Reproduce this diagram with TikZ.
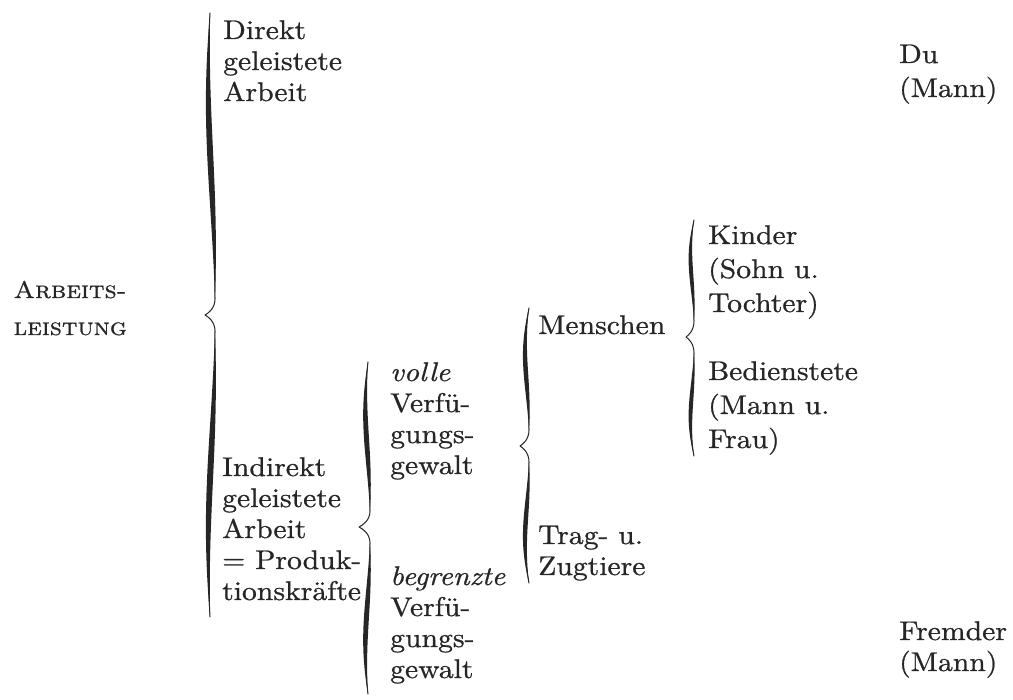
\documentclass[tikz,border=0pt]{standalone}
\usepackage{fontspec}
\setmainfont{lmroman10-regular.otf}[
  ItalicFont=lmroman10-italic.otf,
  SmallCapsFont=lmromancaps10-regular.otf,
  FakeStretch=1.1,
  FakeBold=0.8]
\definecolor{ink}{RGB}{38,38,38}
\newcommand\txtblock[1]{\begin{tabular}[t]{@{}l@{}}#1\end{tabular}}
% curly brace opening to the right, tip pointing left
% #1 stem x, #2 top y, #3 tip y, #4 bottom y, #5 end offset, #6 near-tip offset, #7 tip protrusion, #8 thickness
\newcommand\curlyb[8]{%
  \pgfmathsetmacro\cbS{#1}%
  \pgfmathsetmacro\cbT{#2}%
  \pgfmathsetmacro\cbM{#3}%
  \pgfmathsetmacro\cbB{#4}%
  \pgfmathsetmacro\cbE{\cbS+#5}%
  \pgfmathsetmacro\cbN{\cbS+#6}%
  \pgfmathsetmacro\cbP{\cbS-#7}%
  \pgfmathsetmacro\cbW{#8/1.5}%
  \pgfmathsetmacro\cbH{min(16,0.07*(\cbB-\cbT))}%
  \pgfmathsetmacro\cbUa{\cbM-\cbH}%
  \pgfmathsetmacro\cbLa{\cbM+\cbH}%
  \pgfmathsetmacro\cbUc{\cbT+0.4*(\cbUa-\cbT)}%
  \pgfmathsetmacro\cbUd{\cbUa-0.4*(\cbUa-\cbT)}%
  \pgfmathsetmacro\cbLc{\cbB-0.4*(\cbB-\cbLa)}%
  \pgfmathsetmacro\cbLd{\cbLa+0.4*(\cbB-\cbLa)}%
  \pgfmathsetmacro\cbX{\cbS-3}%
  \pgfmathsetmacro\cbTx{\cbP+0.3*(\cbN-\cbP)}%
  \fill[ink] (\cbE,\cbT) .. controls (\cbX-\cbW,\cbUc) and (\cbN-\cbW,\cbUd) .. (\cbN,\cbUa)
     .. controls (\cbN+\cbW,\cbUd) and (\cbX+\cbW,\cbUc) .. (\cbE,\cbT) -- cycle;
  \fill[ink] (\cbN,\cbLa) .. controls (\cbN-\cbW,\cbLd) and (\cbX-\cbW,\cbLc) .. (\cbE,\cbB)
     .. controls (\cbX+\cbW,\cbLc) and (\cbN+\cbW,\cbLd) .. (\cbN,\cbLa) -- cycle;
  \draw[ink,line width=1pt,line cap=round,line join=round]
     (\cbE,\cbT) .. controls (\cbX,\cbUc) and (\cbN,\cbUd) .. (\cbN,\cbUa)
     .. controls (\cbN,\cbUa+0.6*\cbH) and (\cbTx,\cbM-0.1*\cbH) .. (\cbP,\cbM)
     .. controls (\cbTx,\cbM+0.1*\cbH) and (\cbN,\cbLa-0.6*\cbH) .. (\cbN,\cbLa)
     .. controls (\cbN,\cbLd) and (\cbX,\cbLc) .. (\cbE,\cbB);
}
\begin{document}
\begin{tikzpicture}[x=1pt,y=-1pt,
  txt/.style={anchor=base west,inner sep=0pt,text=ink,font=\fontsize{27}{31}\selectfont}]
\useasboundingbox (0,0) rectangle (1013,700);
\fill[white] (0,0) rectangle (1013,700);

% text blocks
\node[txt,anchor=base east,font=\fontsize{24}{37}\selectfont] (arb) at (127,298)
  {\txtblock{\textsc{Arbeits-}\\\textsc{leistung}}};
\node[txt] (dir) at (223,39) {\txtblock{Direkt\\geleistete\\Arbeit}};
\node[txt] (ind) at (222,476) {\txtblock{Indirekt\\geleistete\\Arbeit\\= Produk-\\tionskräfte}};
\node[txt] (vol) at (390,381) {\txtblock{\textit{volle}\\Verfü-\\gungs-\\gewalt}};
\node[txt] (beg) at (390,585) {\txtblock{\textit{begrenzte}\\Verfü-\\gungs-\\gewalt}};
\node[txt] (men) at (538,334) {Menschen};
\node[txt] (trag) at (538,544) {\txtblock{Trag- u.\\Zugtiere}};
\node[txt,font=\fontsize{27}{34}\selectfont] (kin) at (708,244) {\txtblock{Kinder\\(Sohn u.\\Tochter)}};
\node[txt,font=\fontsize{27}{34}\selectfont] (bed) at (708,380) {\txtblock{Bedienstete\\(Mann u.\\Frau)}};
\node[txt,font=\fontsize{27}{34}\selectfont] (du) at (899,63) {\txtblock{Du\\(Mann)}};
\node[txt,font=\fontsize{27}{31}\selectfont] (frem) at (899,640) {\txtblock{Fremder\\(Mann)}};

% braces
\curlyb{207}{13}{315}{617}{3}{8}{2}{6}
\curlyb{364}{362}{527}{694}{4}{6}{5}{5}
\curlyb{523}{308}{446}{583}{6}{6}{3}{4.5}
\curlyb{689}{220}{337}{456}{5}{5}{3}{4}
\end{tikzpicture}
\end{document}
